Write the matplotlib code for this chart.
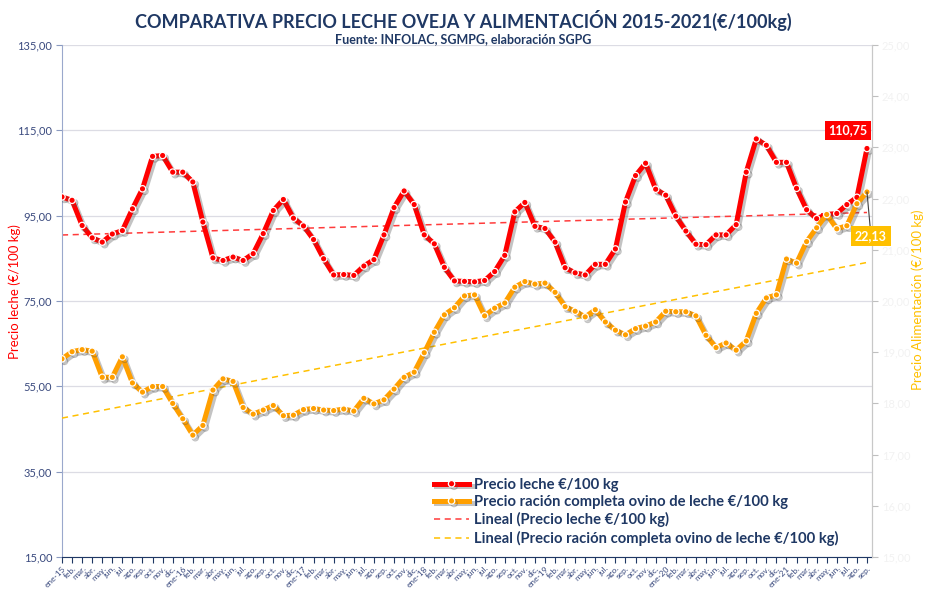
import matplotlib
matplotlib.use("Agg")
import matplotlib.pyplot as plt
import matplotlib.patheffects as pe
from matplotlib.ticker import FuncFormatter
import numpy as np

plt.rcParams['font.family'] = ['Lato', 'DejaVu Sans']

# ---------------- data ----------------
years = ["15", "16", "17", "18", "19", "20", "21"]
months = ["ene", "feb.", "mar.", "abr.", "may.", "jun.", "jul.", "ago.", "sep.", "oct.", "nov.", "dic."]
n_months_last_year = 9

leche = [99.4, 98.6, 92.7, 89.8, 88.8, 90.7, 91.5, 96.6, 101.3, 108.9,
         109.1, 105.2, 105.2, 102.9, 93.5, 85.1, 84.5, 85.3, 84.5, 86.1,
         90.8, 96.2, 98.8, 94.4, 92.6, 89.4, 84.9, 81.1, 81.2, 81.0,
         83.2, 84.7, 90.5, 96.9, 100.8, 97.6, 90.5, 88.4, 82.9, 79.7,
         79.6, 79.5, 79.8, 81.9, 85.7, 95.9, 98.1, 92.5, 92.0, 88.8,
         82.8, 81.6, 81.1, 83.6, 83.6, 87.2, 98.2, 104.4, 107.3, 101.2,
         99.8, 94.9, 91.4, 88.3, 88.2, 90.5, 90.5, 92.9, 105.2, 113.0,
         111.5, 107.5, 107.5, 101.4, 96.4, 94.3, 95.3, 95.5, 97.6, 99.3,
         110.75]

racion = [18.87, 19.01, 19.05, 19.02, 18.51, 18.51, 18.91, 18.40, 18.22, 18.33,
          18.33, 18.00, 17.70, 17.38, 17.57, 18.26, 18.48, 18.43, 17.92, 17.79,
          17.87, 17.96, 17.76, 17.77, 17.88, 17.90, 17.87, 17.86, 17.89, 17.85,
          18.10, 17.99, 18.07, 18.28, 18.51, 18.61, 18.99, 19.39, 19.73, 19.87,
          20.10, 20.12, 19.71, 19.86, 19.96, 20.27, 20.38, 20.33, 20.35, 20.17,
          19.89, 19.80, 19.69, 19.83, 19.59, 19.43, 19.34, 19.46, 19.51, 19.59,
          19.80, 19.79, 19.79, 19.71, 19.33, 19.09, 19.18, 19.04, 19.22, 19.76,
          20.06, 20.12, 20.82, 20.74, 21.16, 21.43, 21.69, 21.41, 21.47, 21.90,
          22.13]

left_ticks = [15, 35, 55, 75, 95, 115, 135]
right_ticks = [15, 16, 17, 18, 19, 20, 21, 22, 23, 24, 25]

labels = []
for yi, y in enumerate(years):
    nm = n_months_last_year if yi == len(years) - 1 else 12
    for m in range(nm):
        labels.append(f"ene-{y}" if m == 0 else months[m])

x = np.arange(len(leche))

# ---------------- styling ----------------
navy = "#1F3864"
tick_navy = "#3A4A7E"
red = "#FF0000"
orange = "#FF9F00"
gold = "#FFC000"

fig = plt.figure(figsize=(9.26, 5.89), dpi=100)
ax = fig.add_axes([62/926, 32/589, (872-62)/926, (557-45)/589])
ax2 = ax.twinx()

shadow = [pe.SimpleLineShadow(offset=(1.8, -1.8), shadow_color="#555555", alpha=0.35), pe.Normal()]

# trend lines
cr = np.polyfit(x, leche, 1)
co = np.polyfit(x, racion, 1)
t1, = ax.plot(x, np.polyval(cr, x), ls=(0, (4, 3)), color="#FF3B3B", lw=1.1, zorder=2,
              label="Lineal (Precio leche €/100 kg)")
l1, = ax.plot(x, leche, color=red, lw=3.6, marker="o", ms=4.6, mfc=red, mec="white",
              mew=0.9, zorder=3, path_effects=shadow, label="Precio leche €/100 kg")

l2, = ax2.plot(x, racion, color=orange, lw=3.6, marker="o", ms=4.6, mfc=orange, mec="white",
               mew=0.9, zorder=3, path_effects=shadow,
               label="Precio ración completa ovino de leche €/100 kg")
t2, = ax2.plot(x, np.polyval(co, x), ls=(0, (4, 3)), color=gold, lw=1.1, zorder=2,
               label="Lineal (Precio ración completa ovino de leche €/100 kg)")

# axes limits / ticks
ax.set_xlim(0, 80.5)
ax.set_ylim(left_ticks[0], left_ticks[-1])
ax2.set_ylim(right_ticks[0], right_ticks[-1])
ax.set_yticks(left_ticks)
ax2.set_yticks(right_ticks)
fmt = FuncFormatter(lambda v, p: f"{v:.2f}".replace(".", ","))
ax.yaxis.set_major_formatter(fmt)
ax2.yaxis.set_major_formatter(fmt)

ax.set_xticks(x)
ax.set_xticklabels(labels, rotation=45, ha="right", rotation_mode="anchor",
                   fontsize=6.0, color=tick_navy)
ax.tick_params(axis="x", direction="out", length=4, width=0.8, color=navy, pad=1.5)
ax.tick_params(axis="y", direction="out", length=4, width=0.8, color="#8A9AC0",
               labelsize=8, labelcolor=tick_navy, pad=3)
ax2.tick_params(axis="y", direction="out", length=4, width=0.8, color="#BFBFBF",
                labelsize=8, labelcolor="#F2F2F2", pad=3)

ax.grid(axis="y", color="#DCDCE4", lw=0.9)
ax.set_axisbelow(True)

for a in (ax, ax2):
    a.spines["top"].set_visible(False)
    a.spines["left"].set_color("#9AA8CC")
    a.spines["bottom"].set_color(navy)
    a.spines["right"].set_color("#C8C8C8")
    a.patch.set_visible(False)
ax2.spines["bottom"].set_visible(False)
ax2.spines["left"].set_visible(False)

# axis titles
fig.text(15/926, 1 - 292/589, "Precio leche (€/100 kg)", color=red, fontsize=9.5,
         rotation=90, ha="center", va="center")
fig.text(918/926, 1 - 300/589, "Precio Alimentación (€/100 kg)", color=gold, fontsize=9.5,
         rotation=90, ha="center", va="center")

# data labels
ax.annotate(f"{leche[-1]:.2f}".replace(".", ","), xy=(x[-1], leche[-1]),
            xytext=(-19, 18), textcoords="offset pixels", ha="center", va="center",
            color="white", fontsize=9, fontweight="bold",
            bbox=dict(boxstyle="square,pad=0.3", fc=red, ec="none"), zorder=6)
ax2.annotate(f"{racion[-1]:.2f}".replace(".", ","), xy=(x[-1], racion[-1]),
             xytext=(4, -44), textcoords="offset pixels", ha="center", va="center",
             color="white", fontsize=9, fontweight="bold",
             bbox=dict(boxstyle="square,pad=0.3", fc=gold, ec="none"),
             arrowprops=dict(arrowstyle="-", color="#404040", lw=0.8, shrinkA=0, shrinkB=0),
             zorder=6, annotation_clip=False)

# legend
leg = ax2.legend([l1, l2, t1, t2],
                 [l1.get_label(), l2.get_label(), t1.get_label(), t2.get_label()],
                 loc="upper left", bbox_to_anchor=((428-62)/810, (557-472)/512),
                 frameon=False, fontsize=10.6, handlelength=2.4, handletextpad=0.3,
                 labelspacing=0.22, borderaxespad=0)
for txt in leg.get_texts():
    txt.set_color(navy)
    txt.set_fontweight("bold")

# titles
fig.text(0.5, 1 - 20/589, "COMPARATIVA PRECIO LECHE OVEJA Y ALIMENTACIÓN 2015-2021(€/100kg)",
         ha="center", va="center", fontsize=13, fontweight="bold", color=navy)
fig.text(0.5, 1 - 39/589, "Fuente: INFOLAC, SGMPG, elaboración SGPG",
         ha="center", va="center", fontsize=9, fontweight="bold", color=navy)

fig.savefig("out.png", dpi=100)
